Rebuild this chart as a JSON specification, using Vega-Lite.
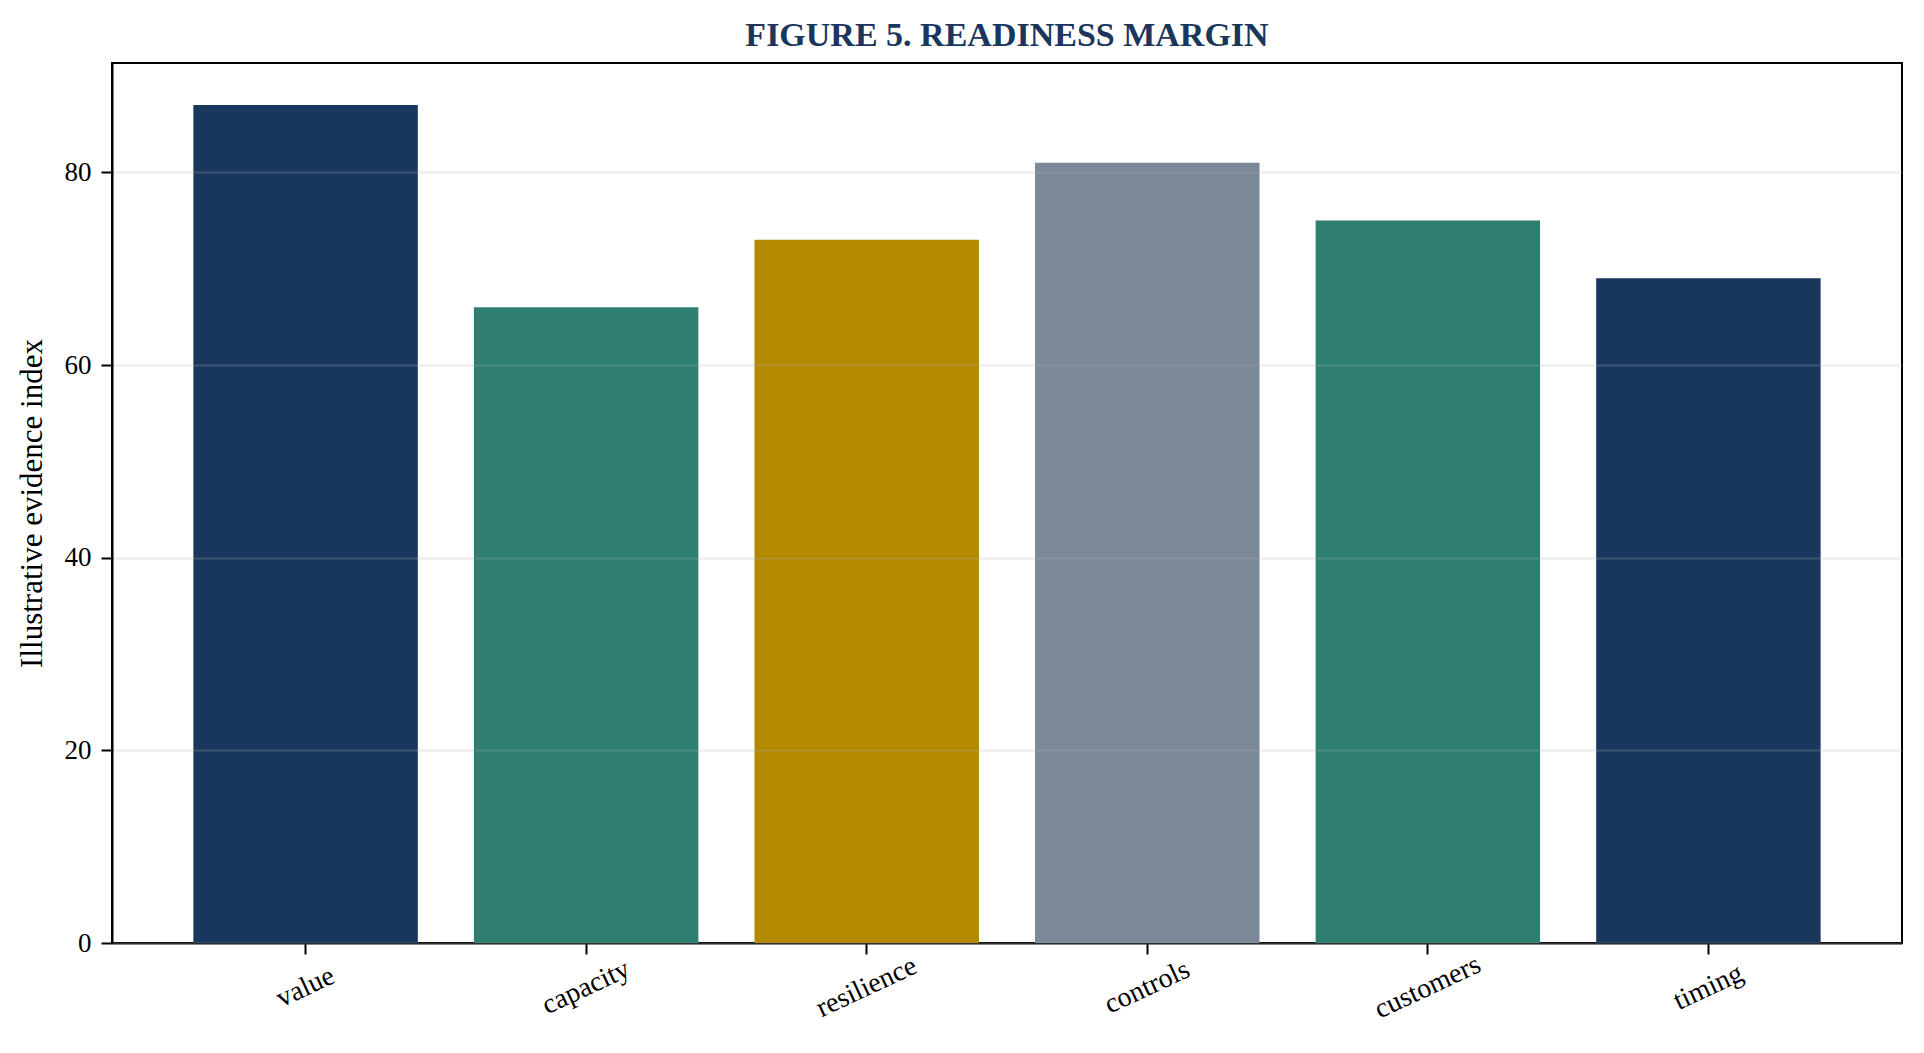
{
  "$schema": "https://vega.github.io/schema/vega-lite/v6.json",
  "autosize": "none",
  "width": 1790,
  "height": 880,
  "padding": {"left": 112, "top": 63, "right": 22, "bottom": 110},
  "background": "white",
  "title": {
    "text": "FIGURE 5. READINESS MARGIN",
    "font": "Liberation Serif",
    "fontSize": 34,
    "fontWeight": "bold",
    "color": "#1a365d",
    "anchor": "middle",
    "frame": "group",
    "offset": 10
  },
  "config": {
    "font": "Liberation Serif",
    "view": {"stroke": "black", "strokeWidth": 2}
  },
  "data": {
    "values": [
      {"area": "value", "score": 87},
      {"area": "capacity", "score": 66},
      {"area": "resilience", "score": 73},
      {"area": "controls", "score": 81},
      {"area": "customers", "score": 75},
      {"area": "timing", "score": 69}
    ]
  },
  "mark": {"type": "bar"},
  "encoding": {
    "x": {
      "field": "area",
      "type": "nominal",
      "sort": null,
      "title": null,
      "scale": {"paddingInner": 0.2, "paddingOuter": 0.29},
      "axis": {
        "labelAngle": -25,
        "labelAlign": "center",
        "labelBaseline": "middle",
        "labelFont": "Liberation Serif",
        "labelFontSize": 28,
        "labelColor": "black",
        "labelPadding": 33,
        "tickSize": 11,
        "tickWidth": 2,
        "tickColor": "black",
        "domainColor": "black",
        "domainWidth": 2
      }
    },
    "y": {
      "field": "score",
      "type": "quantitative",
      "title": "Illustrative evidence index",
      "scale": {"domain": [0, 91.35], "nice": false, "zero": true},
      "axis": {
        "values": [0, 20, 40, 60, 80],
        "zindex": 1,
        "grid": true,
        "gridColor": "#b0b0b0",
        "gridOpacity": 0.25,
        "gridWidth": 2,
        "labelFont": "Liberation Serif",
        "labelFontSize": 27,
        "labelColor": "black",
        "labelPadding": 10,
        "tickSize": 11,
        "tickWidth": 2,
        "tickColor": "black",
        "domainColor": "black",
        "domainWidth": 2,
        "titleFont": "Liberation Serif",
        "titleFontSize": 31,
        "titleFontWeight": "normal",
        "titleColor": "black",
        "titlePadding": 16
      }
    },
    "color": {
      "field": "area",
      "type": "nominal",
      "legend": null,
      "scale": {
        "domain": ["value", "capacity", "resilience", "controls", "customers", "timing"],
        "range": ["#19365c", "#2e7f6f", "#b38900", "#7a8898", "#2e7f6f", "#19365c"]
      }
    }
  }
}
